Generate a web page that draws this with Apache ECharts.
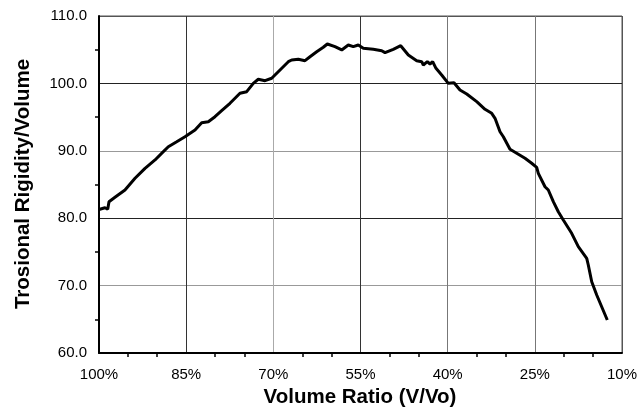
<!DOCTYPE html>
<html>
<head>
<meta charset="utf-8">
<script src="https://cdn.jsdelivr.net/npm/echarts@6/dist/echarts.min.js"></script>
<style>html,body{margin:0;padding:0;background:#fff}#c{width:643px;height:411px}</style>
</head>
<body>
<div id="c"></div>
<script>
// Volume ratio (%)
var volumeRatio = [100.0, 98.97, 98.50, 98.28, 97.25, 95.53, 93.80, 92.08, 90.36, 88.93, 88.07, 86.63, 85.20, 83.48, 82.33, 81.19, 80.04, 78.89, 77.46, 75.74, 74.58, 73.45, 72.59, 71.43, 70.28, 68.85, 67.42, 66.84, 65.70, 64.55, 63.69, 62.54, 61.40, 60.71, 59.39, 58.23, 57.10, 56.24, 55.38, 54.52, 52.80, 51.35, 50.78, 49.36, 48.08, 46.77, 45.33, 44.47, 44.19, 43.50, 43.04, 42.58, 42.01, 41.03, 39.89, 38.91, 37.88, 36.72, 35.00, 33.57, 32.42, 31.85, 30.99, 30.42, 29.27, 28.12, 26.69, 25.54, 24.68, 24.40, 23.25, 22.68, 21.82, 20.96, 20.10, 18.66, 17.52, 16.07, 15.80, 15.21, 14.35, 12.53];
// Torsional rigidity / volume
var rigidity = [81.3, 81.56, 81.32, 82.45, 83.10, 84.18, 85.92, 87.40, 88.64, 89.87, 90.61, 91.35, 92.09, 93.09, 94.17, 94.32, 95.06, 95.95, 97.05, 98.53, 98.77, 100.01, 100.61, 100.40, 100.76, 101.99, 103.22, 103.47, 103.58, 103.37, 103.96, 104.70, 105.36, 105.85, 105.45, 104.96, 105.70, 105.45, 105.70, 105.21, 105.06, 104.85, 104.56, 105.06, 105.59, 104.21, 103.37, 103.22, 102.73, 103.22, 102.88, 103.22, 102.24, 101.25, 100.01, 100.10, 99.02, 98.43, 97.29, 96.16, 95.56, 94.82, 92.83, 92.09, 90.22, 89.63, 88.89, 88.15, 87.55, 86.66, 84.67, 84.18, 82.45, 80.96, 79.73, 77.76, 75.77, 74.05, 73.06, 70.58, 68.61, 64.90];
var xTicks = [10, 25, 40, 55, 70, 85, 100];
var yTicks = [60, 70, 80, 90, 100, 110];
var xTitle = 'Volume Ratio (V/Vo)';
var yTitle = 'Trosional Rigidity/Volume';

var pts = volumeRatio.map(function (v, i) { return [v, rigidity[i]]; });
var chart = echarts.init(document.getElementById('c'), null, {renderer: 'canvas'});
var font = '"Liberation Sans", Arial, sans-serif';
chart.setOption({
  animation: false,
  backgroundColor: '#fff',
  grid: {left: 99, right: 21, top: 16, bottom: 58, show: true, borderColor: '#555', borderWidth: 1},
  xAxis: {
    type: 'value', inverse: true,
    min: xTicks[0], max: xTicks[xTicks.length - 1], interval: 15,
    axisLine: {show: true, onZero: false, lineStyle: {color: '#000', width: 2}},
    axisTick: {show: false},
    minorTick: {show: true, splitNumber: 3, length: 4, lineStyle: {color: '#000', width: 1.5}},
    axisLabel: {formatter: '{value}%', color: '#000', fontSize: 15, fontFamily: font, margin: 14},
    splitLine: {show: true, lineStyle: {color: ['#555', '#777', '#777', '#333', '#aaa', '#333', '#555'], width: 1}}
  },
  yAxis: {
    type: 'value',
    min: yTicks[0], max: yTicks[yTicks.length - 1], interval: 10,
    axisLine: {show: true, onZero: false, lineStyle: {color: '#000', width: 2}},
    axisTick: {show: false},
    minorTick: {show: true, splitNumber: 2, length: 4, lineStyle: {color: '#000', width: 1.5}},
    axisLabel: {formatter: function (v) { return v.toFixed(1); }, color: '#000', fontSize: 15, fontFamily: font, margin: 12},
    splitLine: {show: true, lineStyle: {color: ['#000', '#999', '#222', '#999', '#222', '#555'], width: 1}}
  },
  graphic: [
    {type: 'text', x: 360, y: 397,
      style: {text: xTitle, font: 'bold 20.5px ' + font, fill: '#000', textAlign: 'center', textVerticalAlign: 'middle'}},
    {type: 'text', x: 23, y: 184, rotation: Math.PI / 2,
      style: {text: yTitle, font: 'bold 20.5px ' + font, fill: '#000', textAlign: 'center', textVerticalAlign: 'middle'}}
  ],
  series: [{
    type: 'line', data: pts, showSymbol: false, smooth: false,
    lineStyle: {color: '#000', width: 3}
  }]
});
</script>
</body>
</html>
